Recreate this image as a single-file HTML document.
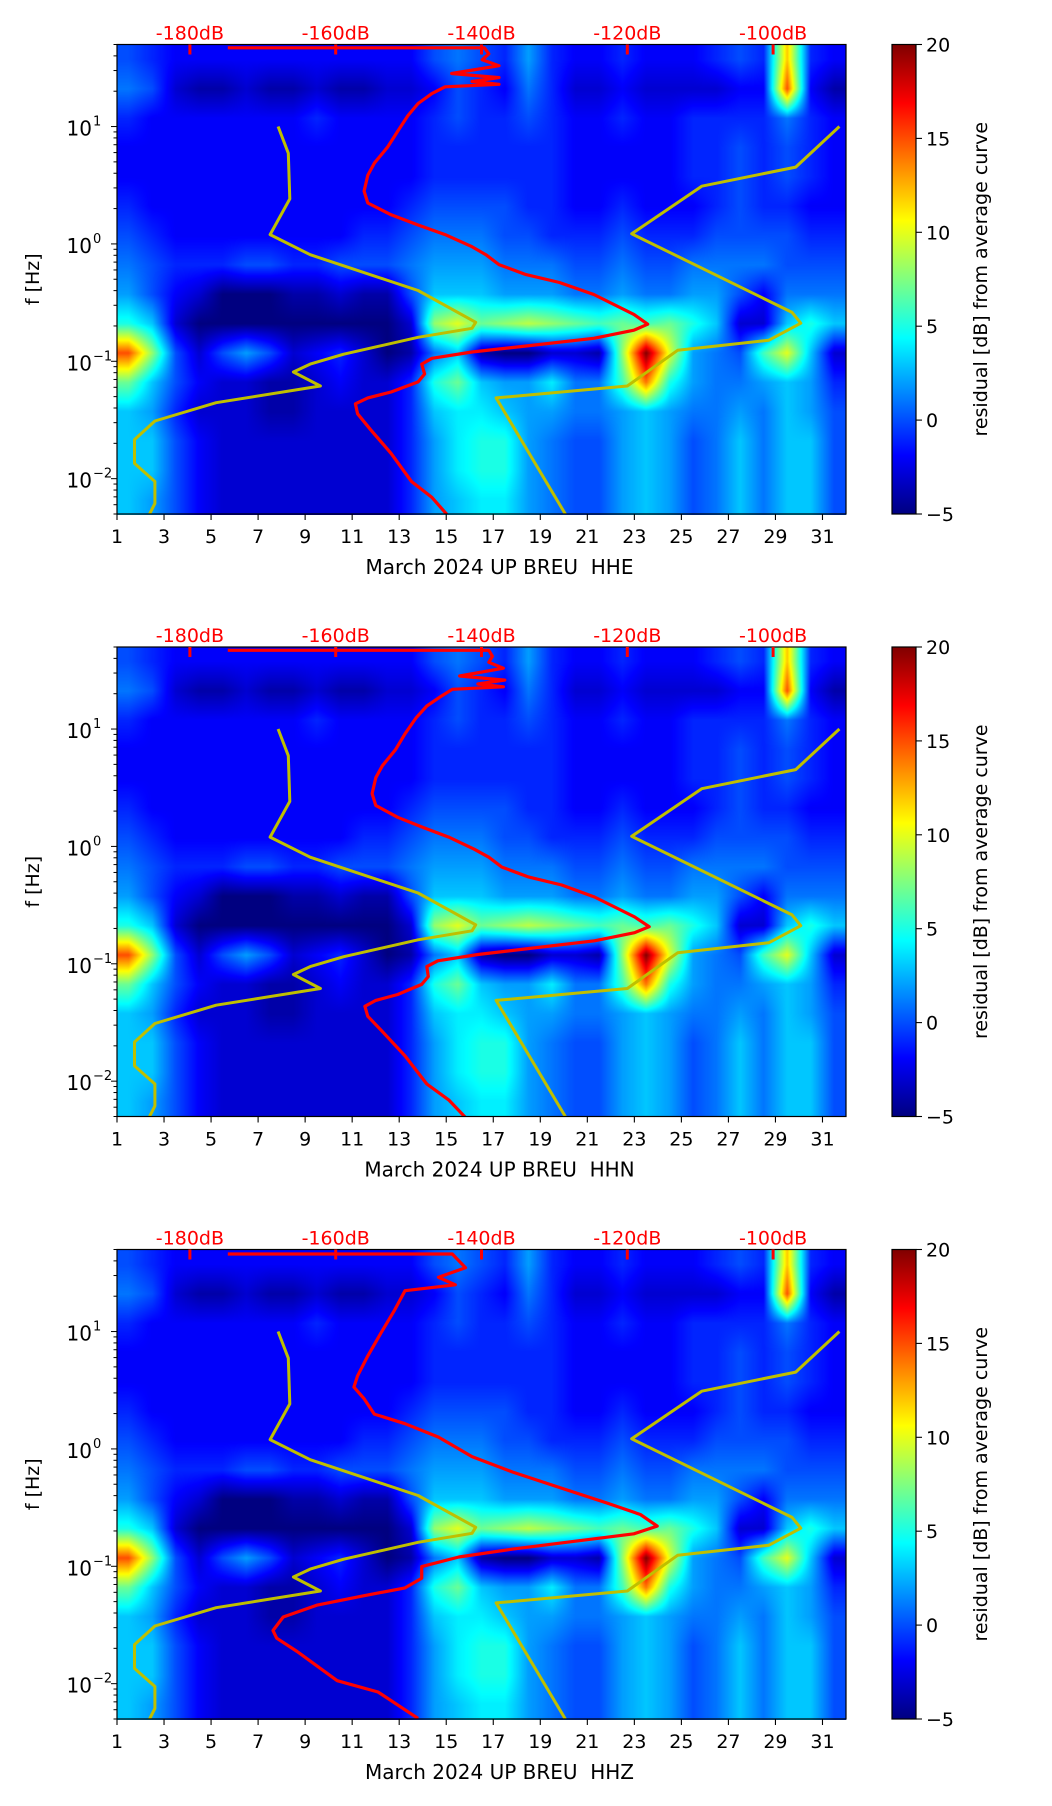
<!DOCTYPE html>
<html><head><meta charset="utf-8">
<style>
html,body{margin:0;padding:0;background:#fff;}
#root{position:relative;width:1052px;height:1806px;overflow:hidden;font-family:"DejaVu Sans","Liberation Sans",sans-serif;}
canvas{position:absolute;}
svg{position:absolute;left:0;top:0;}
text{white-space:pre;}
</style></head>
<body>
<div id="root">
<canvas id="hm0" width="729" height="470" style="left:117px;top:44.5px"></canvas>
<canvas id="hm1" width="729" height="470" style="left:117px;top:647px"></canvas>
<canvas id="hm2" width="729" height="470" style="left:117px;top:1249.5px"></canvas>
<svg id="ov" width="1052" height="1806"></svg>
</div>
<script>
// ---- data ----
const dayTicks = [1,3,5,7,9,11,13,15,17,19,21,23,25,27,29,31];
const dbTicks = [-180,-160,-140,-120,-100];
const dbTickLabels = ["-180dB","-160dB","-140dB","-120dB","-100dB"];
const freqTicks = [-2,-1,0,1];
const cbTicks = [-5,0,5,10,15,20];
const channelNames = ["HHE","HHN","HHZ"];
// residual grid: rows = freq bands (top 50Hz -> bottom 0.005Hz, 1/4 decade), cols = days 1..31
const residualGrid = [
[0,-1,-2,-2,-2,-2,-2,-2,-2,-2,-2,-2,-2,0,1,0,-1,2,-1,-2,-2,-1,-2,-2,-2,-1,0,-1,12,-1,-2],
[1,0,-3,-4,-4,-3,-4,-4,-3,-4,-4,-3,-3,-2,0,-1,-2,1,-1,-3,-3,-2,-3,-3,-3,-3,-2,-2,15,-2,-4],
[-1,-2,-2,-2,-2,-2,-2,-2,-1,-2,-2,-2,-2,-1,0,-1,-1,0,-1,-2,-2,-1,-2,-2,-1,-1,-1,-1,1,-1,-2],
[-2,-2,-2,-2,-2,-2,-2,-2,-2,-2,-2,-2,-2,-1,-1,-1,-1,-1,-1,-2,-2,-2,-2,-2,-1,-1,0,-1,0,-1,-2],
[-2,-2,-2,-2,-2,-2,-2,-2,-2,-2,-2,-2,-2,-1,-1,-1,-1,-1,-1,-2,-2,-2,-2,-2,-1,-1,0,-1,0,-1,-2],
[-1,-2,-2,-2,-2,-2,-2,-2,-2,-2,-2,-2,-1,0,0,0,0,-1,-1,-2,-2,-1,-2,-2,-2,-1,0,-1,-1,-2,-2],
[0,-1,-2,-2,-2,-2,-2,-2,-2,-2,-1,-1,0,1,1,1,0,0,-1,-1,-1,0,-1,-1,-1,0,0,0,0,-1,-1],
[1,0,-1,-1,-1,0,0,-1,-1,0,0,0,1,2,2,2,1,1,1,0,0,1,0,0,1,1,1,1,0,0,0],
[2,0,-2,-3,-5,-5,-5,-4,-4,-3,-4,-4,0,3,3,3,2,2,2,1,1,2,1,1,2,2,0,-2,1,1,1],
[5,3,-3,-5,-5,-5,-5,-5,-5,-5,-5,-5,-3,8,10,7,8,9,8,7,6,7,6,7,5,3,-3,-3,3,5,3],
[15,8,0,-3,0,2,0,-3,-2,-1,-3,-5,-4,1,3,-4,-5,-5,-3,-3,-4,8,20,10,2,1,0,6,10,3,-3],
[7,3,0,-2,-3,-3,-4,-4,-3,-2,-3,-3,-1,5,7,3,2,2,4,1,1,6,14,5,2,1,1,2,3,2,-1],
[3,2,-1,-3,-3,-3,-4,-4,-3,-3,-3,-3,-1,3,4,4,3,2,2,1,1,2,3,2,1,1,2,1,3,2,0],
[3,3,0,-2,-3,-3,-3,-3,-3,-3,-3,-3,-1,2,4,5,5,2,1,0,0,2,3,2,0,1,3,1,3,3,0],
[3,3,0,-2,-3,-3,-3,-3,-3,-3,-3,-3,-1,2,4,5,5,2,1,0,0,2,3,2,0,1,3,1,3,3,0],
[3,2,0,-2,-3,-3,-3,-3,-3,-3,-3,-3,-1,2,3,4,4,2,1,0,0,2,3,2,0,1,3,1,3,3,0]
];
// average PSD curves (dB, Hz)
const redDbHHE = [-174.8,-139.6,-139.0,-139.9,-137.6,-144.1,-137.6,-141.3,-137.6,-145.0,-146.8,-148.7,-150.1,-151.5,-152.9,-154.7,-155.6,-156.1,-155.6,-152.4,-148.7,-145.0,-141.3,-139.4,-137.6,-133.9,-129.3,-124.6,-119.1,-117.2,-119.1,-124.6,-133.9,-141.3,-146.8,-148.2,-147.8,-148.7,-152.4,-155.6,-157.3,-157.0,-155.2,-152.4,-149.6,-146.8,-144.5];
const redHzHHE = [46.9,46.9,41.7,37,33,28.3,26.1,24.2,22.9,21.8,19.1,15.7,12.4,9.1,6.67,4.87,3.85,2.82,2.23,1.77,1.45,1.2,0.946,0.81,0.667,0.548,0.469,0.371,0.251,0.207,0.184,0.157,0.135,0.12,0.106,0.0946,0.078,0.0667,0.0548,0.0488,0.0434,0.0357,0.0261,0.0164,0.00946,0.00693,0.00476];
const redDbHHN = [-174.8,-139.0,-138.5,-139.0,-137.0,-143.0,-136.8,-140.5,-137.0,-144.0,-145.5,-147.5,-149.0,-150.5,-151.8,-153.6,-154.5,-155.0,-154.5,-151.5,-148.0,-144.5,-141.0,-139.0,-137.2,-133.5,-129.0,-124.5,-119.0,-117.0,-119.0,-124.5,-133.5,-140.5,-146.0,-147.5,-147.3,-148.2,-151.5,-154.5,-156.0,-155.6,-153.5,-150.5,-147.5,-144.5,-142.0];
const redHzHHN = redHzHHE.slice();
const redDbHHZ = [-174.8,-144.0,-142.2,-145.9,-143.6,-150.5,-151.9,-153.8,-155.6,-157.0,-157.5,-156.1,-154.7,-150.5,-145.9,-141.3,-135.7,-129.3,-122.8,-118.2,-115.9,-119.1,-127.4,-135.7,-143.1,-148.2,-148.2,-150.5,-156.1,-162.6,-167.2,-168.6,-168.1,-165.3,-159.8,-154.2,-148.7];
const redHzHHZ = [45.8,45.8,35,29,25,22.3,15.3,9.7,6.2,4.2,3.36,2.68,1.98,1.64,1.26,0.86,0.635,0.469,0.346,0.276,0.22,0.189,0.163,0.14,0.12,0.0993,0.079,0.0655,0.0562,0.0466,0.037,0.0284,0.0244,0.0188,0.0106,0.0085,0.00506];
// reference noise models (yellow)
const nlnmDb = [-167.9,-166.5,-166.3,-169.0,-163.5,-148.7,-140.8,-141.3,-148.7,-158.9,-163.5,-165.8,-162.1,-176.4,-184.8,-187.6,-187.6,-184.8,-184.8,-185.7];
const nlnmHz = [10,5.93,2.42,1.2,0.81,0.401,0.215,0.191,0.16,0.115,0.0946,0.081,0.0616,0.0444,0.031,0.0215,0.0135,0.00946,0.00616,0.00476];
const nhnmDb = [-90.9,-96.9,-109.8,-119.4,-97.4,-96.2,-100.6,-113.1,-120.0,-138.0,-128.3];
const nhnmHz = [10,4.51,3.1,1.22,0.261,0.211,0.151,0.124,0.0616,0.0488,0.00476];

// ---- layout ----
const L=117, W=729, H=469.5, tops=[44.5,647,1249.5];
const CBX=892, CBW=24;
const LOGTOP=Math.log10(50), LOGBOT=Math.log10(0.005);
const xDay = d => L + (d-1)/31*W;
const xDb = db => L + (db+190)/100*W;
const yF = (f,T) => T + (LOGTOP-Math.log10(f))/(LOGTOP-LOGBOT)*H;
const yLog = (lf,T) => T + (LOGTOP-lf)/(LOGTOP-LOGBOT)*H;

function jet(t){
  t=Math.max(0,Math.min(1,t));
  const c=v=>Math.max(0,Math.min(1,v));
  return [c(1.5-Math.abs(4*t-3))*255,c(1.5-Math.abs(4*t-2))*255,c(1.5-Math.abs(4*t-1))*255];
}
function gridVal(day, lf){
  const nr=residualGrid.length, nc=residualGrid[0].length;
  let cf=day-1.5; let rf=(1.7-lf)/0.25-0.5;
  cf=Math.max(0,Math.min(nc-1,cf)); rf=Math.max(0,Math.min(nr-1,rf));
  const c0=Math.floor(cf), r0=Math.floor(rf), c1=Math.min(nc-1,c0+1), r1=Math.min(nr-1,r0+1);
  const a=cf-c0, b=rf-r0;
  return (residualGrid[r0][c0]*(1-a)+residualGrid[r0][c1]*a)*(1-b)+(residualGrid[r1][c0]*(1-a)+residualGrid[r1][c1]*a)*b;
}
for(let p=0;p<3;p++){
  const cv=document.getElementById('hm'+p), ctx=cv.getContext('2d');
  const img=ctx.createImageData(729,470);
  for(let y=0;y<470;y++){
    const lf=LOGTOP-(y+0.5)/H*(LOGTOP-LOGBOT);
    for(let x=0;x<729;x++){
      const day=1+(x+0.5)/W*31;
      const col=jet((gridVal(day,lf)+5)/25);
      const i=(y*729+x)*4;
      img.data[i]=col[0];img.data[i+1]=col[1];img.data[i+2]=col[2];img.data[i+3]=255;
    }
  }
  ctx.putImageData(img,0,0);
}

const NS='http://www.w3.org/2000/svg';
const ov=document.getElementById('ov');
function mk(tag,attrs,parent){const e=document.createElementNS(NS,tag);for(const k in attrs)e.setAttribute(k,attrs[k]);(parent||ov).appendChild(e);return e;}

const defs=mk('defs',{});
const lg=mk('linearGradient',{id:'jetg',x1:0,y1:1,x2:0,y2:0},defs);
for(let i=0;i<=16;i++){const c=jet(i/16);mk('stop',{offset:(i/16),'stop-color':`rgb(${c.map(Math.round).join(',')})`},lg);}

const redSets=[[redDbHHE,redHzHHE],[redDbHHN,redHzHHN],[redDbHHZ,redHzHHZ]];
for(let p=0;p<3;p++){
  const T=tops[p];
  const g=mk('g',{});
  
  
  const cp=mk('clipPath',{id:'cp'+p},defs);
  mk('rect',{x:L,y:T,width:W,height:H},cp);
  const mkLine=(dbs,hzs,color,name,w)=>{
    const pl=mk('polyline',{points:dbs.map((d,i)=>xDb(d).toFixed(1)+','+yF(hzs[i],T).toFixed(1)).join(' '),fill:'none',stroke:color,'stroke-width':w,'stroke-linejoin':'round','clip-path':`url(#cp${p})`},g);
    
    
  };
  mkLine(nlnmDb,nlnmHz,'#bfbf00','nlnm-curve',3);
  mkLine(nhnmDb,nhnmHz,'#bfbf00','nhnm-curve',3);
  mkLine(redSets[p][0],redSets[p][1],'#ff0000','average-psd-curve',3.2);
  const fr=mk('rect',{x:L,y:T,width:W,height:H,fill:'none',stroke:'#000','stroke-width':1.2},g);
  
  
  dayTicks.forEach(d=>{
    const x=xDay(d);
    mk('line',{x1:x,y1:T+H,x2:x,y2:T+H+6,stroke:'#000','stroke-width':1.1},g);
    const t=mk('text',{x:x,y:T+H+29,'font-size':19,'text-anchor':'middle',fill:'#000'},g);
    t.textContent=d;
    
    
  });
  const xl=mk('text',{x:L+W/2+18,y:T+H+60,'font-size':20,'text-anchor':'middle',fill:'#000'},g);
  xl.textContent='March 2024 UP BREU  '+channelNames[p];
  
  
  dbTicks.forEach((db,i)=>{
    const x=xDb(db);
    mk('line',{x1:x,y1:T,x2:x,y2:T+10,stroke:'#ff0000','stroke-width':3},g);
    const t=mk('text',{x:x,y:T-5,'font-size':19,'text-anchor':'middle',fill:'#ff0000'},g);
    t.textContent=dbTickLabels[i];
    
    
  });
  for(let dec=-3;dec<=1;dec++){
    for(let m=1;m<10;m++){
      const f=m*Math.pow(10,dec);
      if(f<0.005||f>50)continue;
      const y=yF(f,T);
      mk('line',{x1:L,y1:y,x2:L-(m===1?6:3.5),y2:y,stroke:'#000','stroke-width':1},g);
    }
  }
  freqTicks.forEach(e=>{
    const y=yLog(e,T);
    const t=mk('text',{x:92,y:y+9,'font-size':20,'text-anchor':'end',fill:'#000'},g);
    t.textContent='10';
    
    
    const s=mk('text',{x:93,y:y-1,'font-size':13,'text-anchor':'start',fill:'#000'},g);
    s.textContent=(e<0?'\u2212':'')+Math.abs(e);
    
    
  });
  const yl=mk('text',{x:0,y:0,'font-size':19,'text-anchor':'middle',fill:'#000',transform:`translate(39,${T+H/2}) rotate(-90)`},g);
  yl.textContent='f [Hz]';
  
  
  const cb=mk('rect',{x:CBX,y:T,width:CBW,height:H,fill:'url(#jetg)',stroke:'#000','stroke-width':1.2},g);
  
  
  cbTicks.forEach(v=>{
    const y=T+H-(v+5)/25*H;
    mk('line',{x1:CBX+CBW,y1:y,x2:CBX+CBW+6,y2:y,stroke:'#000','stroke-width':1.1},g);
    const t=mk('text',{x:CBX+CBW+10,y:y+7,'font-size':19,fill:'#000'},g);
    t.textContent=v<0?'\u2212'+Math.abs(v):v;
    
    
  });
  const cl=mk('text',{x:0,y:0,'font-size':19,'text-anchor':'middle',fill:'#000',transform:`translate(987,${T+H/2}) rotate(-90)`},g);
  cl.textContent='residual [dB] from average curve';
  
  
}
</script>
</body></html>
